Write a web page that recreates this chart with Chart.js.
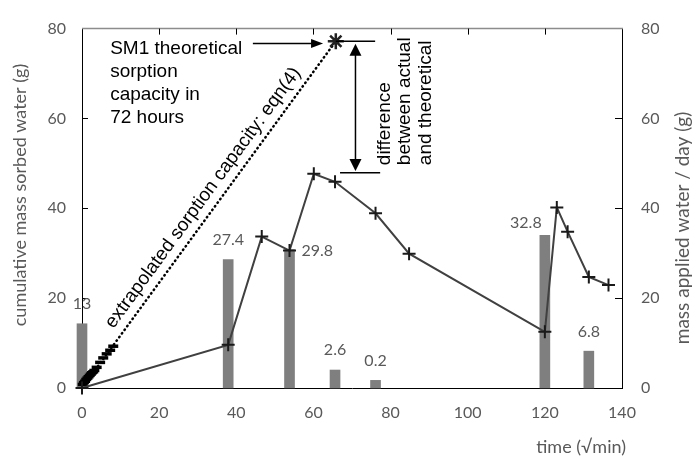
<!DOCTYPE html>
<html>
<head>
<meta charset="utf-8">
<script src="https://cdn.jsdelivr.net/npm/chart.js@4.4.0/dist/chart.umd.min.js"></script>
<style>
  html, body { margin: 0; padding: 0; background: #fff; }
  #wrap { width: 696px; height: 462px; }
</style>
</head>
<body>
<div id="wrap"><canvas id="chart" width="696" height="462"></canvas></div>
<script>
// measured sorption (time in sqrt(min), grams)
const times  = [0, 37.9, 46.6, 53.8, 60.1, 65.6, 76.1, 84.8, 120.0, 123.1, 125.9, 131.4, 136.5];
const sorbed = [0, 9.6, 33.7, 30.6, 47.7, 45.9, 38.9, 29.9, 12.5, 40.2, 34.8, 24.7, 22.9];

// early readings drawn as short dashes
const earlyTimes  = [0.2, 0.5, 0.8, 1.1, 1.4, 1.7, 2.0, 2.3, 2.6, 2.9, 3.2, 3.8, 4.7, 5.5, 6.4, 7.3, 8.1];
const earlySorbed = [0.8, 1.2, 1.5, 1.9, 2.2, 2.5, 2.8, 3.1, 3.4, 3.6, 3.9, 4.6, 5.7, 6.7, 7.6, 8.4, 9.3];

// water applied per day (right axis)
const barTimes = [0, 37.9, 53.8, 65.6, 76.1, 120.0, 131.4];
const applied  = [14.3, 28.6, 30.8, 4.0, 1.7, 34.0, 8.2];
const appliedLabels = ["13", "27.4", "29.8", "2.6", "0.2", "32.8", "6.8"];

// theoretical capacity in 72 h
const theoryTime = 65.8;
const theoryValue = 77.2;

const xTicks = [0, 20, 40, 60, 80, 100, 120, 140];
const yTicks = [0, 20, 40, 60, 80];

// label placement relative to bar top (px), align
const labelOffsets = [[0, -20, "center"], [0, -20, "center"], [12, 1, "left"], [0, -20, "center"],
                      [0, -20, "center"], [-19, -12, "center"], [0, -19, "center"]];

const GREY = "#595959";
const TICKFONT = "16px Lato";
const NOTEFONT = "19px 'Liberation Sans', Arial, sans-serif";

function arrowHead(ctx, x, y, dx, dy, len, half) {
  // tip at x,y pointing along dx,dy
  const px = -dy, py = dx;
  ctx.beginPath();
  ctx.moveTo(x, y);
  ctx.lineTo(x - dx * len + px * half, y - dy * len + py * half);
  ctx.lineTo(x - dx * len - px * half, y - dy * len - py * half);
  ctx.closePath();
  ctx.fill();
}

const decorations = {
  id: "decorations",
  beforeDatasetsDraw(chart) {
    const { ctx, chartArea: a, scales } = chart;
    ctx.save();
    // grey top border
    ctx.strokeStyle = "#8c8c8c";
    ctx.lineWidth = 1.5;
    ctx.beginPath();
    ctx.moveTo(a.left, a.top);
    ctx.lineTo(a.right + 1, a.top);
    ctx.stroke();
    // inner tick marks
    ctx.strokeStyle = "#000";
    ctx.lineWidth = 1;
    ctx.beginPath();
    xTicks.slice(1, -1).forEach(v => {
      const x = Math.round(scales.x.getPixelForValue(v)) + 0.5;
      ctx.moveTo(x, a.top);
      ctx.lineTo(x, a.top + 6);
    });
    yTicks.slice(1, -1).forEach(v => {
      const y = Math.round(scales.y.getPixelForValue(v)) + 0.5;
      ctx.moveTo(a.left, y);
      ctx.lineTo(a.left + 6, y);
      ctx.moveTo(a.right, y);
      ctx.lineTo(a.right - 7, y);
    });
    ctx.stroke();
    ctx.restore();
  },
  afterDatasetsDraw(chart) {
    const { ctx, scales } = chart;
    const X = v => scales.x.getPixelForValue(v);
    const Y = v => scales.y.getPixelForValue(v);
    ctx.save();

    // bar value labels
    ctx.fillStyle = GREY;
    ctx.font = TICKFONT;
    ctx.textBaseline = "middle";
    const bars = chart.getDatasetMeta(0).data;
    bars.forEach((b, i) => {
      const [ox, oy, align] = labelOffsets[i];
      ctx.textAlign = align;
      ctx.fillText(appliedLabels[i], b.x + ox, b.y + oy);
    });

    // axis titles
    ctx.fillStyle = GREY;
    ctx.font = "18px Lato";
    ctx.textAlign = "center";
    ctx.save();
    ctx.translate(20, 195);
    ctx.rotate(-Math.PI / 2);
    ctx.fillText("cumulative mass sorbed water (g)", 0, 0);
    ctx.restore();
    ctx.save();
    ctx.translate(683, 228);
    ctx.rotate(-Math.PI / 2);
    ctx.font = "19px Lato";
    ctx.fillText("mass applied water / day (g)", 0, 0);
    ctx.restore();
    ctx.textAlign = "right";
    ctx.fillText("time (\u221Amin)", 626, 447);

    // annotations
    ctx.fillStyle = "#000";
    ctx.strokeStyle = "#000";
    ctx.lineWidth = 1.5;
    ctx.font = NOTEFONT;
    ctx.textAlign = "left";
    ctx.textBaseline = "middle";
    const noteLines = ["SM1 theoretical", "sorption", "capacity in", "72 hours"];
    noteLines.forEach((t, i) => ctx.fillText(t, X(7.3), Y(75.4) + i * 22.7));

    // arrow to the star
    const ay = Y(76.7);
    ctx.beginPath();
    ctx.moveTo(X(44.3), ay);
    ctx.lineTo(X(60), ay);
    ctx.stroke();
    arrowHead(ctx, X(62.5), ay, 1, 0, 12, 4.5);

    // horizontal markers
    ctx.beginPath();
    ctx.moveTo(X(theoryTime), Y(theoryValue));
    ctx.lineTo(X(76.0), Y(theoryValue));
    ctx.moveTo(X(66.9), Y(47.9));
    ctx.lineTo(X(77.3), Y(47.9));
    ctx.stroke();

    // double arrow
    const dx = X(70.9);
    ctx.beginPath();
    ctx.moveTo(dx, Y(76.6) + 10);
    ctx.lineTo(dx, Y(48.3) - 10);
    ctx.stroke();
    arrowHead(ctx, dx, Y(76.6), 0, -1, 12, 6);
    arrowHead(ctx, dx, Y(48.3), 0, 1, 12, 6);

    // rotated notes
    ctx.textBaseline = "middle";
    ctx.textAlign = "left";
    [["difference", 78.6], ["between actual", 83.8], ["and theoretical", 89.0]].forEach(([t, v]) => {
      ctx.save();
      ctx.translate(X(v), Y(49.6));
      ctx.rotate(-Math.PI / 2);
      ctx.fillText(t, 0, 0);
      ctx.restore();
    });

    // label along the extrapolation line
    const x0 = X(0), y0 = Y(0), x1 = X(theoryTime), y1 = Y(theoryValue);
    const len = Math.hypot(x1 - x0, y1 - y0);
    const ux = (x1 - x0) / len, uy = (y1 - y0) / len;
    const cx = x0 + ux * 225 + uy * 14.5, cy = y0 + uy * 225 - ux * 14.5;
    ctx.save();
    ctx.translate(cx, cy);
    ctx.rotate(Math.atan2(uy, ux));
    ctx.textAlign = "center";
    ctx.fillText("extrapolated sorption capacity: eqn(4)", 0, 0);
    ctx.restore();

    ctx.restore();
  }
};

const ctx = document.getElementById("chart").getContext("2d");

new Chart(ctx, {
  type: "bar",
  data: {
    datasets: [
      {
        type: "bar",
        label: "applied",
        data: barTimes.map((t, i) => ({ x: t, y: applied[i] })),
        backgroundColor: "#7f7f7f",
        barThickness: 10,
        yAxisID: "y2",
        clip: false,
        order: 5
      },
      {
        type: "line",
        label: "extrapolated",
        data: [{ x: 0, y: 0 }, { x: theoryTime, y: theoryValue }],
        borderColor: "#000",
        borderWidth: 2.5,
        borderDash: [0.5, 4],
        borderCapStyle: "round",
        pointRadius: 0,
        yAxisID: "y",
        order: 4
      },
      {
        type: "line",
        label: "early",
        data: earlyTimes.map((t, i) => ({ x: t, y: earlySorbed[i] })),
        showLine: false,
        pointStyle: "line",
        pointRadius: 5,
        borderColor: "#000",
        borderWidth: 3.5,
        yAxisID: "y",
        clip: false,
        order: 3
      },
      {
        type: "line",
        label: "sorbed",
        data: times.map((t, i) => ({ x: t, y: sorbed[i] })),
        borderColor: "#404040",
        borderWidth: 2,
        pointStyle: "cross",
        pointRadius: 6.5,
        pointBorderWidth: 2,
        pointBorderColor: "#1a1a1a",
        yAxisID: "y",
        clip: false,
        order: 2
      },
      {
        type: "line",
        label: "theory",
        data: [{ x: theoryTime, y: theoryValue }],
        pointStyle: "star",
        pointRadius: 8,
        pointBorderWidth: 2.5,
        borderColor: "#222",
        yAxisID: "y",
        clip: false,
        order: 1
      }
    ]
  },
  options: {
    responsive: false,
    animation: false,
    layout: { padding: { top: 17, left: 0, right: 0, bottom: 0 } },
    plugins: { legend: { display: false }, tooltip: { enabled: false } },
    scales: {
      x: {
        type: "linear",
        offset: false,
        min: 0, max: 140,
        afterBuildTicks: s => { s.ticks = xTicks.map(v => ({ value: v })); },
        grid: { display: false, drawTicks: false, offset: false },
        border: { display: true, color: "#000", width: 1 },
        ticks: { color: GREY, font: { family: "Lato", size: 16 }, padding: 15, maxRotation: 0 },
        afterFit: s => { s.height = 74; }
      },
      y: {
        position: "left",
        min: 0, max: 80,
        afterBuildTicks: s => { s.ticks = yTicks.map(v => ({ value: v })); },
        grid: { display: false, drawTicks: false },
        border: { display: true, color: "#000", width: 1 },
        ticks: { color: GREY, font: { family: "Lato", size: 16 }, padding: 16 },
        afterFit: s => { s.width = 82; }
      },
      y2: {
        position: "right",
        min: 0, max: 80,
        afterBuildTicks: s => { s.ticks = yTicks.map(v => ({ value: v })); },
        grid: { display: false, drawTicks: false },
        border: { display: true, color: "#000", width: 1 },
        ticks: { color: GREY, font: { family: "Lato", size: 16 }, padding: 19 },
        afterFit: s => { s.width = 74; }
      }
    }
  },
  plugins: [decorations]
});
</script>
</body>
</html>
